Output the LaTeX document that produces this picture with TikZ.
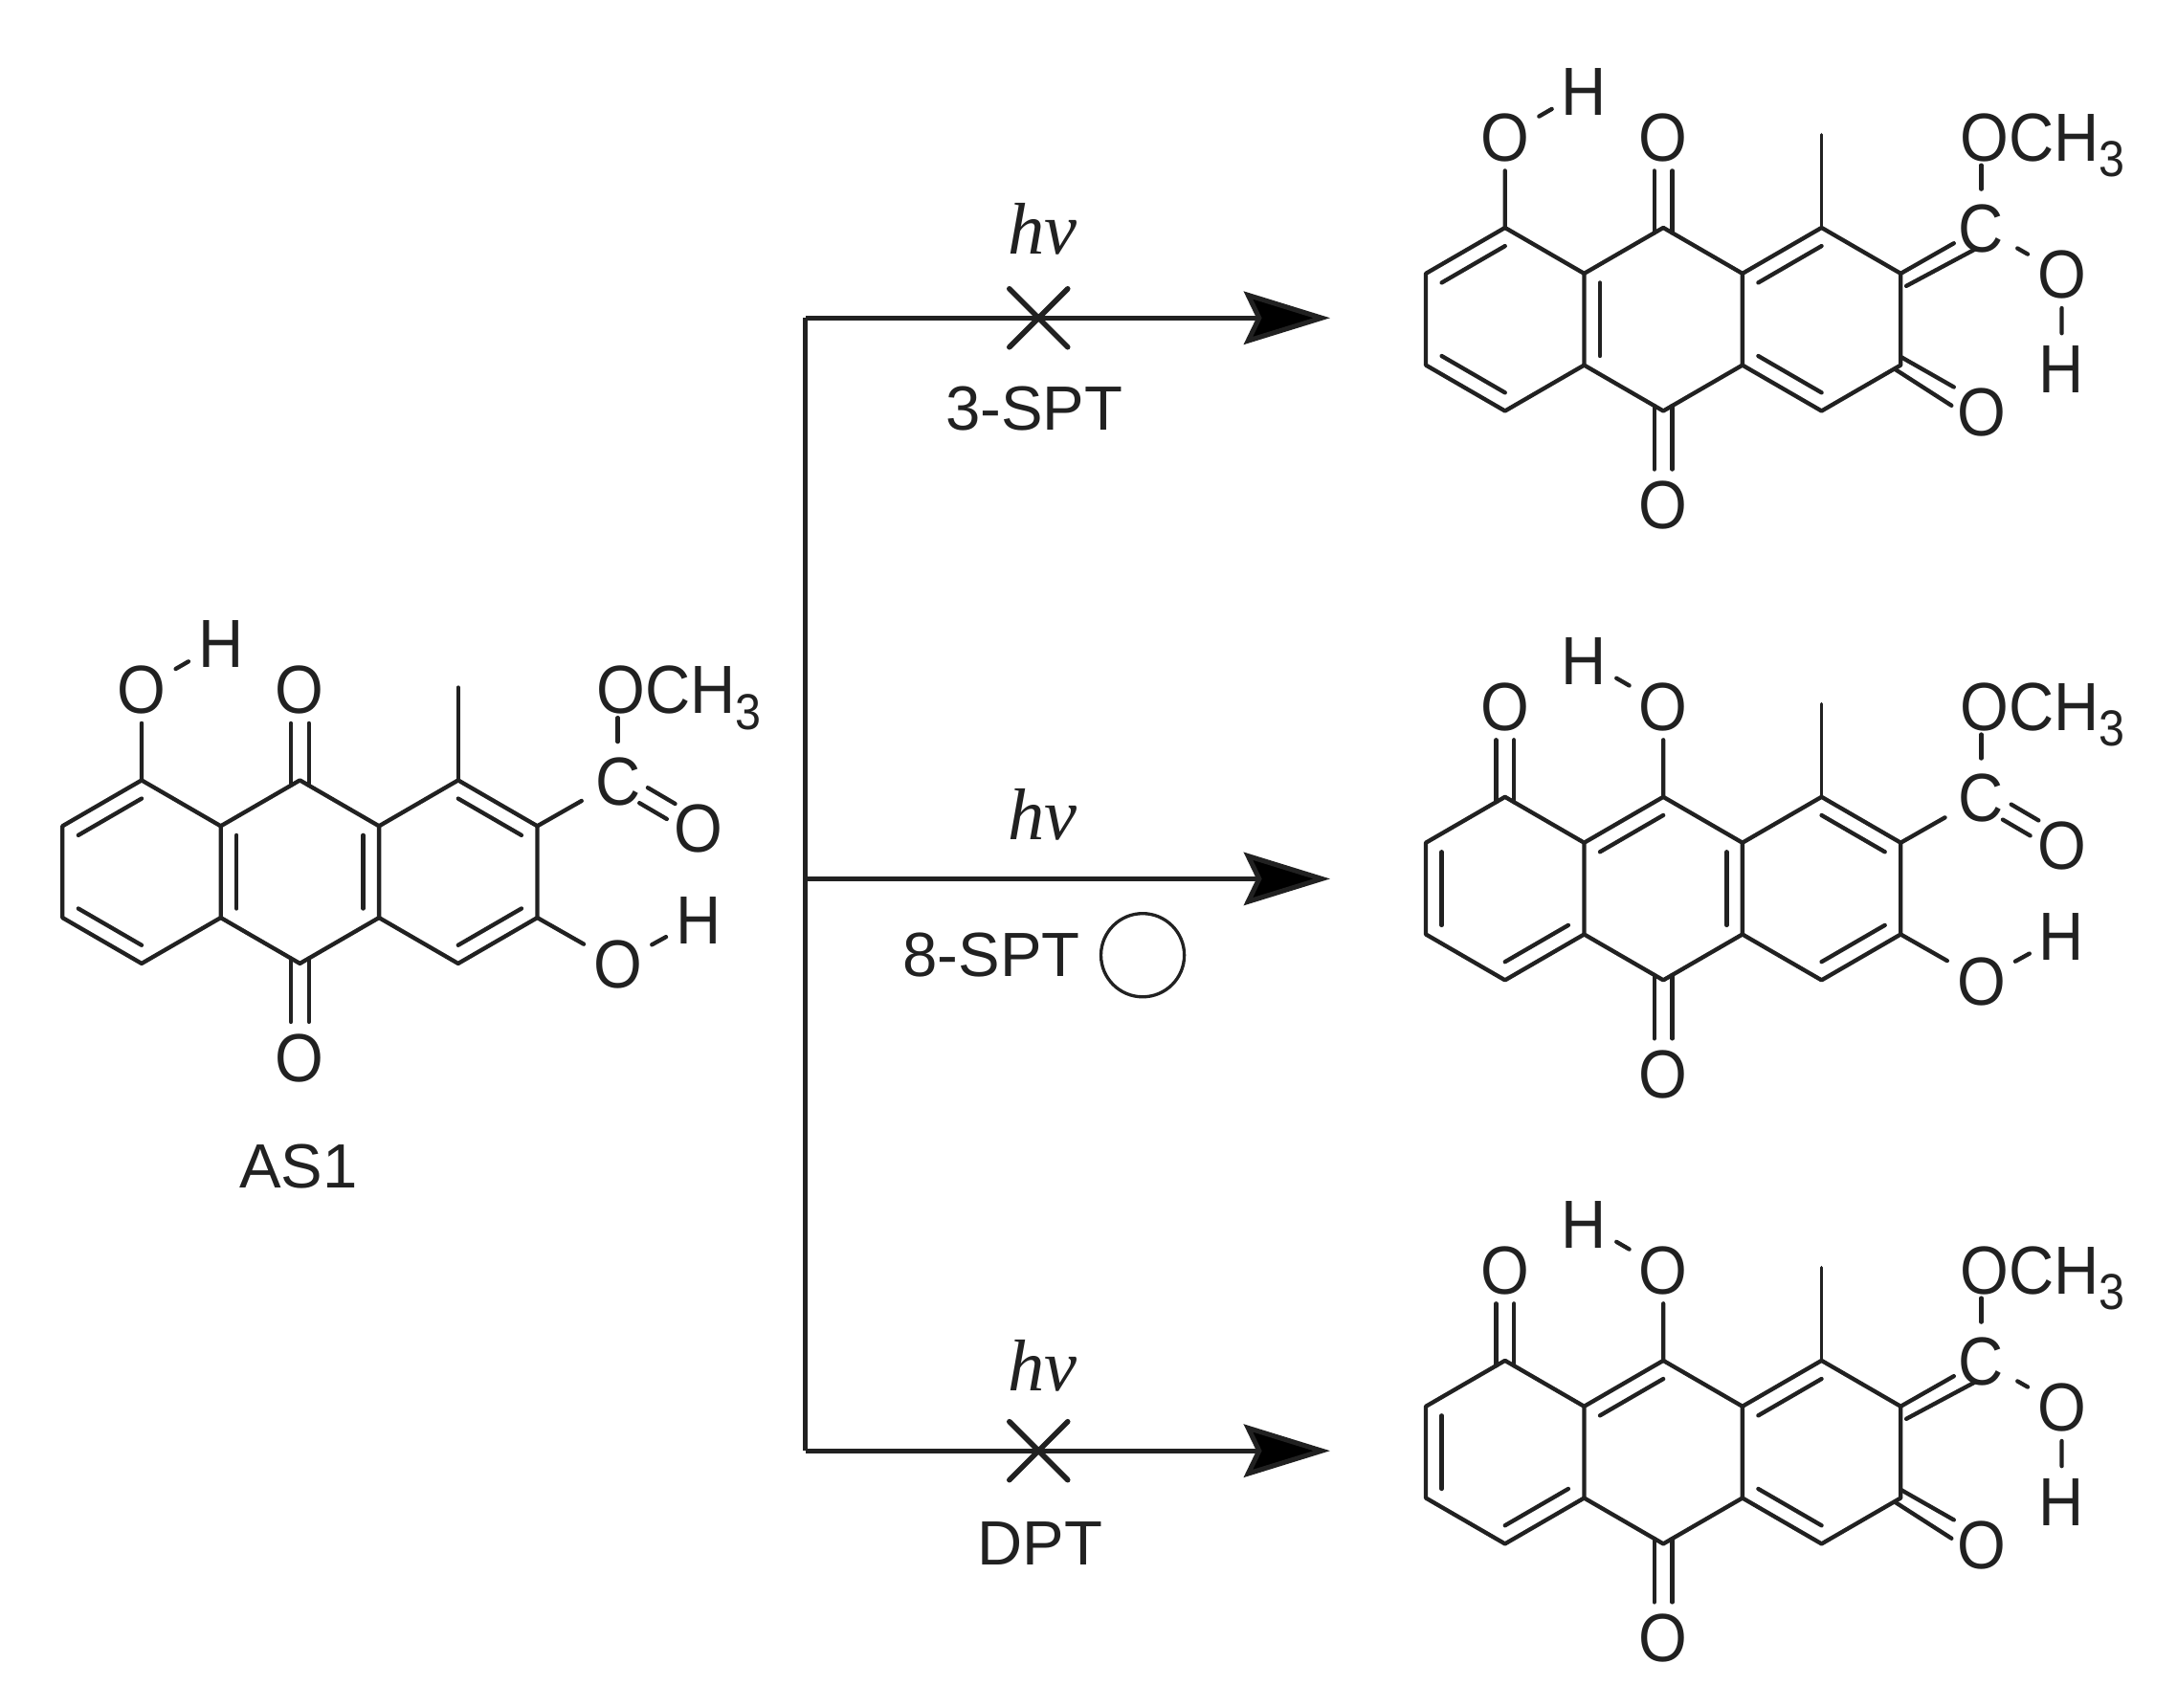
\documentclass[tikz,border=0pt]{standalone}
\usepackage{fontspec}
\usepackage{graphicx}
\setmainfont{Liberation Sans}
\newfontfamily\hvfont{Liberation Serif}
\usetikzlibrary{arrows.meta,calc}
\definecolor{ink}{gray}{0.13}
\tikzset{
  bond/.style={draw=ink,line width=0.85pt,line join=round,line cap=round},
  thinbond/.style={draw=ink,line width=0.7pt,line cap=round},
  rxn/.style={draw=ink,line width=1pt,line join=miter},
  rxnarrow/.style={rxn,-{Stealth[length=0.62cm,width=0.38cm,inset=0.09cm,fill=black]}},
  atom/.style={text=ink,font=\fontsize{12.8}{14}\selectfont,inner sep=1.8pt,text height=10.2pt,text depth=0pt},
  lab/.style={text=ink,font=\fontsize{12.8}{14}\selectfont,inner sep=0pt},
  hvlab/.style={text=ink,font=\fontsize{15}{16}\selectfont\hvfont\itshape,inner sep=0pt},
  cross/.style={draw=ink,line width=1.1pt,line cap=round}
}
\newcommand{\At}[1]{\scalebox{1}[1.09]{#1}}
\newcommand{\threesub}{\raisebox{-3pt}{\fontsize{9.5}{10}\selectfont 3}}
% carbonyl to a vertical oxygen: #1 ring atom, #2 oxygen node, #3 start shift, #4 anchor of oxygen
\newcommand{\dbl}[4]{%
  \coordinate (tmpL) at ($(#1)+(-6.5,#3)$);
  \coordinate (tmpR) at ($(#1)+(6.5,#3)$);
  \draw[bond] (tmpL)--(tmpL |- #2.#4) (tmpR)--(tmpR |- #2.#4);
}
\newcommand{\ringin}[3]{\draw[bond] ($(#1)!.2!(#3)$)--($(#2)!.2!(#3)$);}
\newcommand{\skel}[1]{
  \coordinate (#1T) at (0,-66); \coordinate (#1B) at (0,66);
  \coordinate (#1UL) at (-57,-33); \coordinate (#1LL) at (-57,33);
  \coordinate (#1UR) at (57,-33); \coordinate (#1LR) at (57,33);
  \coordinate (#1a1) at (-114,-66); \coordinate (#1a2) at (-171,-33);
  \coordinate (#1a3) at (-171,33); \coordinate (#1a4) at (-114,66);
  \coordinate (#1c1) at (114,-66); \coordinate (#1c2) at (171,-33);
  \coordinate (#1c3) at (171,33); \coordinate (#1c4) at (114,66);
  \coordinate (#1CL) at (-114,0); \coordinate (#1CM) at (0,0); \coordinate (#1CR) at (114,0);
  \draw[bond] (#1T)--(#1UL)--(#1LL)--(#1B)--(#1LR)--(#1UR)--cycle;
  \draw[bond] (#1UL)--(#1a1)--(#1a2)--(#1a3)--(#1a4)--(#1LL);
  \draw[bond] (#1UR)--(#1c1)--(#1c2)--(#1c3)--(#1c4)--(#1LR);
  \coordinate (#1me) at (114,-133);
  \draw[thinbond] (#1c1)--(#1me);
  \node[atom] (#1Ob) at (0,133) {\At{O}};
  \dbl{#1B}{#1Ob}{-3.7}{north}
  \node[atom,anchor=west,inner sep=0pt] (#1och) at (213,-132) {\At{OCH\threesub}};
  \coordinate (#1ochb) at (229,-111);
  \node[atom,inner sep=2.6pt] (#1C) at (229,-66) {\At{C}};
  \draw[bond] (#1C)--(#1ochb);
}
\newcommand{\estereq}[1]{%
  \node[atom] (#1Oe) at (287,-32) {\At{O}};
  \draw[bond] (#1c2)--(#1C);
  \draw[bond] ($(#1C.center)!.32!(#1Oe.center)+(3,-5.5)$)--($(#1C.center)!.66!(#1Oe.center)+(3,-5.5)$)
              ($(#1C.center)!.32!(#1Oe.center)+(-3,5.5)$)--($(#1C.center)!.66!(#1Oe.center)+(-3,5.5)$);
  \node[atom] (#1Or) at (229,66) {\At{O}}; \node[atom] (#1Hr) at (287,34) {\At{H}};
  \draw[bond] (#1c3)--(#1Or) (#1Or)--(#1Hr);
}
\newcommand{\enol}[1]{%
  \draw[bond] (#1c2)--($(#1C.center)!.34!(#1c2)$)
              ($(#1c2)+(4,9)$)--($(#1C.center)!.20!(#1c2)+(7,9)$);
  \node[atom] (#1Oe) at (287,-33) {\At{O}}; \node[atom] (#1He) at (287,35) {\At{H}};
  \draw[bond] (#1C)--(#1Oe) (#1Oe)--(#1He);
  \node[atom] (#1Or) at (229,66) {\At{O}};
  \draw[bond] ($(#1c3)+(0,-6)$)--($(#1Or.center)!.34!(#1c3)+(0,-6)$)
              ($(#1c3)+(-4,3)$)--($(#1Or.center)!.30!(#1c3)+(-4,6)$);
}
\begin{document}
\begin{tikzpicture}[x=0.01cm,y=-0.01cm]
\fill[white] (0,0) rectangle (1568,1229.6);
\useasboundingbox (0,0) rectangle (1568,1229.6);

% ---- AS1
\begin{scope}[shift={(216,628)}]
  \skel{m}
  \ringin{ma1}{ma2}{mCL} \ringin{ma3}{ma4}{mCL}
  \ringin{mUL}{mLL}{mCM} \ringin{mUR}{mLR}{mCM}
  \ringin{mc1}{mc2}{mCR} \ringin{mc3}{mc4}{mCR}
  \node[atom] (mOt) at (0,-132) {\At{O}}; \dbl{mT}{mOt}{3.7}{south}
  \node[atom] (mOl) at (-114,-132) {\At{O}}; \node[atom] (mHl) at (-57,-165) {\At{H}};
  \draw[bond] (ma1)--(mOl) (mOl)--(mHl);
  \estereq{m}
\end{scope}
\node[lab] (as) at (215,840) {AS1};

% ---- product 1
\begin{scope}[shift={(1198,230)}]
  \skel{p}
  \ringin{pa1}{pa2}{pCL} \ringin{pa3}{pa4}{pCL}
  \ringin{pUL}{pLL}{pCM}
  \ringin{pUR}{pc1}{pCR} \ringin{pLR}{pc4}{pCR}
  \node[atom] (pOt) at (0,-132) {\At{O}}; \dbl{pT}{pOt}{3.7}{south}
  \node[atom] (pOl) at (-114,-132) {\At{O}}; \node[atom] (pHl) at (-57,-165) {\At{H}};
  \draw[bond] (pa1)--(pOl) (pOl)--(pHl);
  \enol{p}
\end{scope}

% ---- product 2
\begin{scope}[shift={(1198,640)}]
  \skel{q}
  \ringin{qa2}{qa3}{qCL} \ringin{qa4}{qLL}{qCL}
  \ringin{qUL}{qT}{qCM} \ringin{qUR}{qLR}{qCM}
  \ringin{qc1}{qc2}{qCR} \ringin{qc3}{qc4}{qCR}
  \node[atom] (qOt) at (-114,-132) {\At{O}}; \dbl{qa1}{qOt}{3.7}{south}
  \node[atom] (qOm) at (0,-132) {\At{O}}; \node[atom] (qHm) at (-57,-165) {\At{H}};
  \draw[bond] (qT)--(qOm) (qOm)--(qHm);
  \estereq{q}
\end{scope}

% ---- product 3
\begin{scope}[shift={(1198,1046)}]
  \skel{r}
  \ringin{ra2}{ra3}{rCL} \ringin{ra4}{rLL}{rCL}
  \ringin{rUL}{rT}{rCM}
  \ringin{rUR}{rc1}{rCR} \ringin{rLR}{rc4}{rCR}
  \node[atom] (rOt) at (-114,-132) {\At{O}}; \dbl{ra1}{rOt}{3.7}{south}
  \node[atom] (rOm) at (0,-132) {\At{O}}; \node[atom] (rHm) at (-57,-165) {\At{H}};
  \draw[bond] (rT)--(rOm) (rOm)--(rHm);
  \enol{r}
\end{scope}

% ---- reaction scheme
\coordinate (top) at (580,229); \coordinate (mid) at (580,633); \coordinate (bot) at (580,1045);
\coordinate (e1) at (958,229); \coordinate (e2) at (958,633); \coordinate (e3) at (958,1045);
\draw[rxn] (top)--(bot);
\draw[rxnarrow] (top)--(e1);
\draw[rxnarrow] (mid)--(e2);
\draw[rxnarrow] (bot)--(e3);
\draw[cross] (727,208)--(769,250) (727,250)--(769,208);
\draw[cross] (727,1024)--(769,1066) (727,1066)--(769,1024);
\node[hvlab] (hv1) at (751,165) {hν};
\node[hvlab] (hv2) at (751,587) {hν};
\node[hvlab] (hv3) at (751,984) {hν};
\node[lab] (l1) at (745,294) {3-SPT};
\node[lab] (l2) at (714,688) {8-SPT};
\node[lab] (l3) at (749,1112) {DPT};
\node[draw=ink,line width=0.65pt,circle,minimum size=0.6cm,inner sep=0pt] (circ) at (823,688) {};
\end{tikzpicture}
\end{document}
